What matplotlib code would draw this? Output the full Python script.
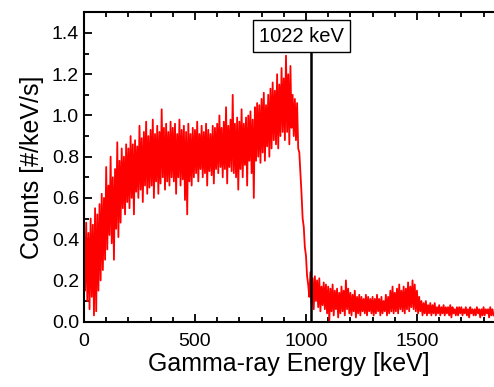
import numpy as np
import matplotlib
matplotlib.use("Agg")
import matplotlib.pyplot as plt
from matplotlib.ticker import MultipleLocator

plt.rcParams['font.family'] = ['Liberation Sans', 'DejaVu Sans']

# spectrum: upper and lower swings of the noisy trace,
# one pair per 10 keV starting at 0 keV (upper at E, lower at E + 5 keV)
energy_step = 10
upper = [
    0.45, 0.48, 0.43, 0.50, 0.47, 0.55, 0.52, 0.57, 0.62, 0.60,
    0.75, 0.66, 0.80, 0.70, 0.74, 0.87, 0.78, 0.84, 0.80, 0.86,
    0.84, 0.90, 0.86, 0.88, 0.85, 0.95, 0.89, 0.92, 0.97, 0.90,
    0.93, 0.98, 0.91, 0.95, 0.92, 1.03, 0.94, 0.96, 0.92, 0.97,
    0.94, 0.96, 0.91, 0.98, 0.93, 0.95, 0.92, 0.96, 0.91, 0.94,
    0.93, 0.97, 0.91, 0.95, 0.92, 0.96, 0.93, 0.91, 0.95, 0.94,
    0.96, 1.00, 0.94, 0.97, 1.04, 0.95, 0.98, 1.10, 0.96, 0.99,
    0.97, 1.03, 0.96, 0.99, 1.00, 1.02, 0.98, 1.04, 1.06, 1.05,
    1.08, 1.11, 1.05, 1.10, 1.13, 1.16, 1.12, 1.20, 1.15, 1.23,
    1.18, 1.29, 1.20, 1.24, 1.10, 1.08, 1.06, 0.82, 0.62, 0.46,
    0.32, 0.18, 0.24, 0.21, 0.22, 0.20, 0.21, 0.17, 0.19, 0.18,
    0.17, 0.16, 0.18, 0.15, 0.16, 0.14, 0.17, 0.15, 0.20, 0.16,
    0.14, 0.13, 0.15, 0.12, 0.13, 0.12, 0.11, 0.13, 0.12, 0.11,
    0.12, 0.11, 0.13, 0.11, 0.12, 0.10, 0.13, 0.12, 0.15, 0.17,
    0.14, 0.16, 0.18, 0.15, 0.17, 0.16, 0.19, 0.17, 0.20, 0.18,
    0.15, 0.12, 0.10, 0.09, 0.10, 0.08, 0.09, 0.08, 0.09, 0.07,
    0.08, 0.07, 0.08, 0.07, 0.07, 0.08, 0.07, 0.06, 0.07, 0.07,
    0.07, 0.06, 0.07, 0.06, 0.07, 0.06, 0.06, 0.07, 0.06, 0.06,
    0.07, 0.06, 0.06, 0.07, 0.06,
]
lower = [
    0.15, 0.10, 0.06, 0.12, 0.03, 0.05, 0.15, 0.20, 0.25, 0.30,
    0.35, 0.42, 0.38, 0.30, 0.45, 0.41, 0.48, 0.55, 0.52, 0.58,
    0.55, 0.60, 0.52, 0.63, 0.60, 0.64, 0.58, 0.66, 0.62, 0.65,
    0.66, 0.60, 0.68, 0.62, 0.67, 0.70, 0.64, 0.68, 0.66, 0.70,
    0.68, 0.62, 0.70, 0.66, 0.69, 0.59, 0.52, 0.68, 0.66, 0.70,
    0.72, 0.68, 0.74, 0.70, 0.72, 0.66, 0.73, 0.71, 0.67, 0.74,
    0.72, 0.75, 0.70, 0.74, 0.67, 0.75, 0.73, 0.72, 0.70, 0.64,
    0.74, 0.70, 0.76, 0.66, 0.78, 0.72, 0.60, 0.78, 0.80, 0.77,
    0.82, 0.78, 0.85, 0.80, 0.84, 0.88, 0.86, 0.84, 0.90, 0.92,
    0.88, 0.92, 0.86, 0.94, 0.90, 0.88, 0.84, 0.72, 0.50, 0.36,
    0.22, 0.12, 0.08, 0.06, 0.10, 0.07, 0.05, 0.08, 0.06, 0.04,
    0.00, 0.05, 0.03, 0.06, 0.02, 0.04, 0.05, 0.03, 0.06, 0.04,
    0.03, 0.05, 0.02, 0.04, 0.03, 0.05, 0.04, 0.03, 0.05, 0.04,
    0.03, 0.04, 0.05, 0.03, 0.04, 0.05, 0.03, 0.04, 0.05, 0.04,
    0.05, 0.04, 0.06, 0.05, 0.04, 0.06, 0.05, 0.07, 0.06, 0.05,
    0.04, 0.05, 0.03, 0.04, 0.03, 0.04, 0.03, 0.04, 0.03, 0.04,
    0.03, 0.04, 0.03, 0.04, 0.03, 0.02, 0.04, 0.03, 0.03, 0.04,
    0.03, 0.04, 0.03, 0.02, 0.04, 0.03, 0.03, 0.04, 0.02, 0.03,
    0.03, 0.04, 0.02, 0.03, 0.03,
]

line_energy = 1022
line_label = "1022 keV"

# interleave the swings into one trace
n = len(upper)
energy = np.empty(2 * n)
energy[0::2] = np.arange(n) * energy_step
energy[1::2] = np.arange(n) * energy_step + energy_step / 2
counts = np.empty(2 * n)
counts[0::2] = upper
counts[1::2] = lower

fig = plt.figure(figsize=(4.94, 3.87), dpi=100)
ax = fig.add_axes([0.170, 0.169, 0.830, 0.799])

ax.plot(energy, counts, color='#ff0000', lw=1.3)
ax.plot([line_energy, line_energy], [0, 1.31], color='black', lw=1.8)
ax.text(line_energy - 42, 1.385, line_label, ha='center', va='center', fontsize=14.5,
        bbox=dict(boxstyle='square,pad=0.32', fc='white', ec='black', lw=1.0))

ax.set_xlim(0, 1847)
ax.set_ylim(0, 1.5)
ax.xaxis.set_major_locator(MultipleLocator(500))
ax.xaxis.set_minor_locator(MultipleLocator(100))
ax.yaxis.set_major_locator(MultipleLocator(0.2))
ax.yaxis.set_minor_locator(MultipleLocator(0.1))
ax.yaxis.set_major_formatter(plt.FormatStrFormatter('%.1f'))

ax.spines['right'].set_visible(False)
for s in ['left', 'bottom', 'top']:
    ax.spines[s].set_linewidth(1.5)
ax.tick_params(which='both', direction='in', top=True, right=False, width=1.3, labelsize=14)
ax.tick_params(which='major', length=6)
ax.tick_params(which='minor', length=3.5)
ax.tick_params(axis='x', pad=8)

ax.set_xlabel("Gamma-ray Energy [keV]", fontsize=18, labelpad=2)
ax.set_ylabel("Counts [#/keV/s]", fontsize=18, labelpad=6)

fig.savefig("out.png", dpi=100)
